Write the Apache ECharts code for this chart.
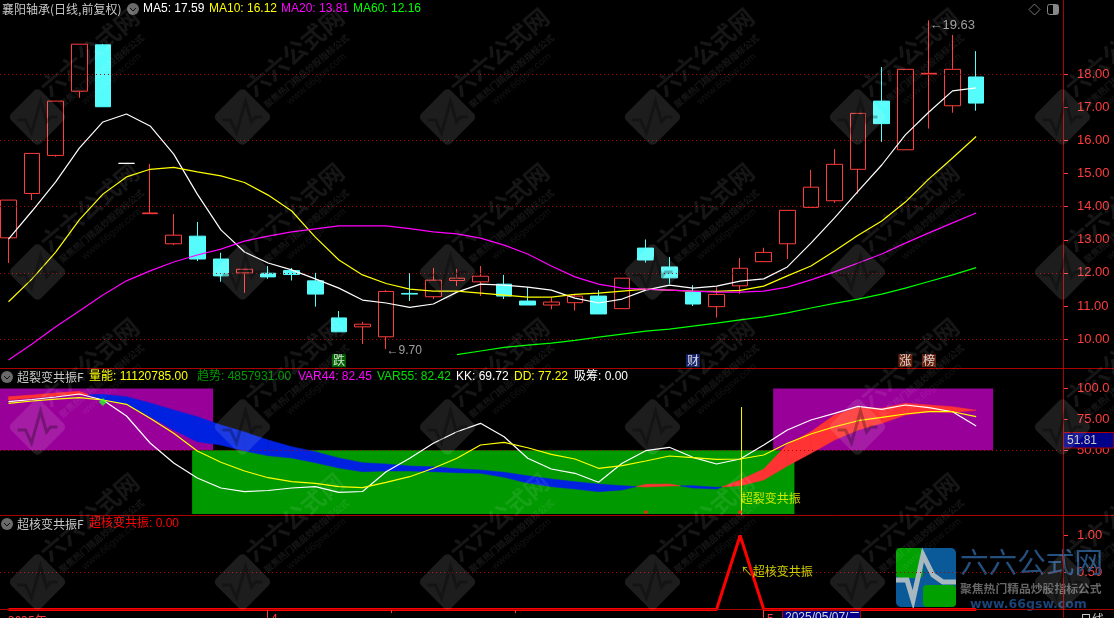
<!DOCTYPE html>
<html><head><meta charset="utf-8">
<style>html,body{margin:0;padding:0;background:#000;overflow:hidden}#c{width:1114px;height:618px}</style>
<script src="https://cdn.jsdelivr.net/npm/echarts@6/dist/echarts.min.js"></script>
</head><body><div id="c"></div>
<script>
// ---- price panel data ----
const opens  = [13.06,14.40,15.55,17.49,18.89,15.31,13.79,12.88,13.11,12.42,12.00,11.99,12.07,11.76,10.64,10.37,10.07,11.38,11.28,11.77,11.73,11.66,11.15,11.03,11.10,11.30,10.92,12.75,12.18,11.42,10.98,11.61,12.34,12.88,13.98,14.18,15.13,17.19,15.72,18.01,17.05,17.92];
const closes = [14.20,15.61,17.19,18.91,17.02,15.31,13.81,13.14,12.42,11.91,12.11,11.88,11.95,11.36,10.22,10.45,11.44,11.36,11.78,11.84,11.90,11.30,11.03,11.12,11.30,10.76,11.84,12.39,11.85,11.06,11.35,12.14,12.62,13.89,14.59,15.28,16.82,16.51,18.15,18.03,18.15,17.13];
const lows   = [12.30,14.20,15.51,17.29,17.02,15.31,13.79,12.84,12.36,11.73,11.40,11.82,11.77,10.98,10.22,9.85,9.70,11.15,11.21,11.60,11.30,11.21,11.03,10.90,10.86,10.76,10.92,12.31,11.67,11.00,10.65,11.37,12.34,12.42,13.98,14.12,14.39,15.96,15.72,16.36,16.84,16.90];
const highs  = [14.20,15.61,17.19,18.91,18.92,15.31,15.29,13.78,13.54,12.61,12.11,12.21,12.15,12.00,10.85,10.52,11.48,11.99,12.15,12.12,12.21,11.94,11.57,11.26,11.34,11.48,11.84,13.01,12.48,11.63,11.57,12.45,12.76,13.89,15.11,15.74,16.82,18.22,18.15,19.63,19.19,18.70];
const ma5  = [13.02,13.87,14.75,15.77,16.56,16.80,16.44,15.59,14.38,13.30,12.63,12.30,12.09,11.82,11.54,11.18,11.09,10.96,11.06,11.42,11.66,11.63,11.57,11.48,11.24,11.09,11.21,11.48,11.63,11.54,11.60,11.75,11.82,12.18,12.90,13.66,14.47,15.26,16.17,16.86,17.50,17.59];
const ma10 = [11.13,11.82,12.63,13.60,14.38,14.90,15.13,15.19,15.05,14.93,14.73,14.35,13.87,13.08,12.39,11.94,11.68,11.51,11.45,11.45,11.39,11.33,11.27,11.27,11.35,11.39,11.45,11.51,11.48,11.45,11.44,11.47,11.60,11.91,12.21,12.66,13.14,13.57,14.14,14.84,15.47,16.12];
const ma20 = [9.37,9.85,10.37,10.85,11.33,11.76,12.06,12.33,12.54,12.72,12.96,13.11,13.24,13.33,13.42,13.42,13.42,13.34,13.24,13.18,13.05,12.84,12.57,12.21,11.88,11.66,11.54,11.51,11.48,11.45,11.42,11.42,11.45,11.57,11.79,12.03,12.30,12.57,12.90,13.21,13.51,13.81];
const ma60Start = 19;
const ma60 = [9.53,9.64,9.75,9.82,9.88,9.96,10.06,10.15,10.24,10.30,10.39,10.48,10.58,10.67,10.79,10.94,11.08,11.21,11.36,11.54,11.74,11.94,12.16];
const priceTicks = [10,11,12,13,14,15,16,17,18];
const priceGrid = [10,12,14,16,18];
const signalIdx = [14,29,38,39];
const signalText = ['跌','财','涨','榜'];
const signalLevel = 9.35;

// ---- 超裂变共振 panel data ----
const var44 = [93.37,94.74,96.36,97.73,90.70,87.22,77.18,66.42,56.96,54.29,49.43,45.63,43.77,39.97,35.68,32.69,33.25,33.25,32.69,31.88,31.39,28.16,23.54,20.55,18.69,16.50,17.88,22.49,22.73,19.50,18.69,25.97,34.87,54.85,65.05,78.56,84.79,83.98,88.03,86.65,85.28,82.45];
const var55 = [90.70,92.31,93.93,94.74,95.31,93.37,88.27,82.61,77.18,70.47,64.81,58.33,52.91,48.87,43.77,39.97,38.92,37.30,36.73,35.11,34.06,32.20,29.45,26.78,24.60,22.73,21.36,20.31,21.12,21.36,20.06,21.36,25.97,37.30,47.57,58.33,66.42,71.84,78.56,81.23,80.74,82.42];
const kk = [89.32,91.10,93.12,95.55,90.70,77.75,55.91,39.72,27.59,19.50,16.50,17.48,19.50,20.55,16.02,16.67,32.69,43.53,55.66,65.05,71.84,61.00,43.53,34.87,31.39,24.11,39.48,49.68,52.43,44.34,38.92,42.96,54.29,66.42,74.51,79.94,85.60,83.17,86.65,84.47,81.23,69.72];
const dd = [88.03,89.89,91.50,92.56,90.70,87.22,75.89,63.75,49.43,40.29,33.25,27.83,24.60,23.30,20.55,19.74,24.11,28.64,35.44,43.53,54.29,56.47,52.10,46.76,42.96,35.44,37.54,41.34,45.39,44.01,42.72,42.96,46.20,55.66,63.19,69.09,73.95,76.70,79.37,81.23,81.23,77.22];
const purpleZones = [[-0.36,8.67,100,50],[32.4,41.72,100,50]];
const greenZones = [[7.78,33.3,50,-1.6]];
const resonanceIdx = 31;
const resonanceLineIdx = 31.06;
const resonanceTop = 85;
const bottomMarks = [27,31];
const greenMark = [4,89];
const indicatorTicks = [50,75,100];

// ---- 超核变共振 panel data ----
const coreSignal = [0,0,0,0,0,0,0,0,0,0,0,0,0,0,0,0,0,0,0,0,0,0,0,0,0,0,0,0,0,0,0,1,0,0,0,0,0,0,0,0,0,0];
const coreTicks = [0.5,1];

const CJK = '"Noto Sans CJK SC"';
const LAT = '"Liberation Sans","Noto Sans CJK SC"';
const FRAME = '#aa0000';
const AX_RED = '#ff3c3c';

const pairs = (arr, start=0) => arr.map((v,i)=>[i+start,v]);
const xMin = -0.36, xMax = 44.68;

const candleData = opens.map((o,i)=>{
  const item = {value:[i,o,closes[i],lows[i],highs[i]]};
  if(i===5) item.itemStyle={color:'#fff',color0:'#fff',borderColor:'#fff',borderColor0:'#fff',borderColorDoji:'#fff'};
  if(i===6||i===39) item.itemStyle={color:'#ff3c3c',color0:'#ff3c3c',borderColor:'#ff3c3c',borderColor0:'#ff3c3c',borderColorDoji:'#ff3c3c'};
  return item;
});

function lineS(data,color,xi,yi,width,z){
  return {type:'line',data,xAxisIndex:xi,yAxisIndex:yi,showSymbol:false,symbol:'none',silent:true,animation:false,
    lineStyle:{color,width:width||1.2},z:z||5,clip:false};
}
function anno(items,xi,yi,color,pos,size){
  return {type:'scatter',xAxisIndex:xi,yAxisIndex:yi,symbolSize:1,silent:true,animation:false,z:20,
    itemStyle:{color:'transparent'},
    data:items.map(it=>({value:[it[0],it[1]],label:{show:true,formatter:it[2],position:pos,distance:0,color,fontSize:size||12,fontFamily:LAT}}))};
}
function dotted(values,xi,yi){
  return {type:'line',data:[],xAxisIndex:xi,yAxisIndex:yi,z:1,silent:true,animation:false,
    markLine:{silent:true,symbol:'none',animation:false,label:{show:false},
      lineStyle:{color:'#b00000',type:[1,3],width:1},data:values.map(v=>({yAxis:v}))}};
}
function zones(list,color,xi,yi){
  return {type:'line',data:[],xAxisIndex:xi,yAxisIndex:yi,z:2,silent:true,animation:false,
    markArea:{silent:true,animation:false,itemStyle:{color,opacity:1},
      data:list.map(a=>[{coord:[a[0],a[2]]},{coord:[a[1],a[3]]}])}};
}

// band between VAR44 and VAR55: red where VAR44 is above, blue where below
const bandData = var44.slice(0,-1).map((a,i)=>[i,a,var55[i],var44[i+1],var55[i+1]]);
function renderBand(params,api){
  const i=api.value(0),a0=api.value(1),b0=api.value(2),a1=api.value(3),b1=api.value(4);
  const P=(x,y)=>api.coord([x,y]);
  const col=d=>d>=0?'#ff3333':'#0022e0';
  const poly=(pts,c)=>({type:'polygon',shape:{points:pts},style:{fill:c,stroke:c,lineWidth:0.5}});
  const d0=a0-b0,d1=a1-b1;
  if(d0*d1>=0) return poly([P(i,a0),P(i+1,a1),P(i+1,b1),P(i,b0)],col(d0+d1));
  const t=d0/(d0-d1),xc=i+t,yc=a0+(a1-a0)*t;
  return {type:'group',children:[
    poly([P(i,a0),P(xc,yc),P(i,b0)],col(d0)),
    poly([P(xc,yc),P(i+1,a1),P(i+1,b1)],col(d1))]};
}

const yAxisBase = (gi,min,max,ticks,fmt)=>({gridIndex:gi,type:'value',position:'right',min,max,scale:false,
  splitLine:{show:false},axisLine:{show:false,onZero:false},
  axisTick:{show:true,length:5,inside:false,lineStyle:{color:AX_RED},customValues:ticks},
  axisLabel:{show:true,margin:14,color:AX_RED,fontSize:13,fontFamily:LAT,customValues:ticks,formatter:fmt}});

const series = [
  dotted(priceGrid,0,0),
  dotted([50],1,1),
  dotted([0.5],2,2),
  zones(purpleZones,'#990099',1,1),
  zones(greenZones,'#009900',1,1),
  {type:'candlestick',xAxisIndex:0,yAxisIndex:0,barWidth:16,animation:false,silent:true,z:3,
    encode:{x:0,y:[1,2,3,4]},data:candleData,
    itemStyle:{color:'rgba(0,0,0,0)',color0:'#54fcfc',borderColor:'#ff3c3c',borderColor0:'#54fcfc',borderWidth:1}},
  lineS(pairs(ma5),'#ffffff',0,0),
  lineS(pairs(ma10),'#ffff00',0,0),
  lineS(pairs(ma20),'#ff00ff',0,0),
  lineS(pairs(ma60,ma60Start),'#00ff00',0,0),
  {type:'custom',xAxisIndex:1,yAxisIndex:1,data:bandData,renderItem:renderBand,silent:true,animation:false,z:4,clip:false,
    encode:{x:0,y:1}},
  lineS(pairs(kk),'#ffffff',1,1,1.2,6),
  lineS(pairs(dd),'#ffff00',1,1,1.2,6),
  lineS([[resonanceLineIdx,resonanceTop],[resonanceLineIdx,-2]],'#ffff00',1,1,1,7),
  {type:'scatter',xAxisIndex:1,yAxisIndex:1,data:bottomMarks.map(i=>[i,0]),symbol:'rect',symbolSize:[4,3],
    itemStyle:{color:'#ff2020'},silent:true,animation:false,z:8},
  {type:'scatter',xAxisIndex:1,yAxisIndex:1,data:[greenMark],symbol:'diamond',symbolSize:8,
    itemStyle:{color:'#22ff22'},silent:true,animation:false,z:8},
  lineS(pairs(coreSignal),'#ff0000',2,2,3,6),
  anno([[16,lows[16]-0.06,'←9.70']],0,0,'#c4c4c4','right'),
  anno([[39,highs[39]-0.16,'←19.63']],0,0,'#c4c4c4','right',13),
  anno([[resonanceIdx,9.8,'超裂变共振']],1,1,'#ffff00','right'),
  anno([[resonanceIdx,0.5,'↖超核变共振']],2,2,'#ffff00','right'),
  {type:'scatter',xAxisIndex:0,yAxisIndex:0,symbolSize:1,silent:true,animation:false,z:20,itemStyle:{color:'transparent'},
    data:signalIdx.map((idx,k)=>({value:[idx,signalLevel],label:{show:true,formatter:signalText[k],position:'inside',
      color:'#fff',fontSize:12,fontFamily:CJK,padding:[0,1,0,1],lineHeight:13,
      backgroundColor:['#007700','#1a2a80','#7a2a10','#7a2a10'][k]}}))}
];

// ---- static page furniture ----
const g = [];
const txt=(x,y,text,fill,font,opt)=>g.push({type:'text',z:(opt&&opt.z)||30,silent:true,
  style:Object.assign({x,y,text,fill,font:font||('12px '+LAT),verticalAlign:'middle'},opt&&opt.style)});
const ln=(x1,y1,x2,y2,c,w,z)=>g.push({type:'line',z:z||15,silent:true,shape:{x1,y1,x2,y2},style:{stroke:c||FRAME,lineWidth:w||1}});
const rc=(x,y,w,h,fill,stroke,r,z)=>g.push({type:'rect',z:z||16,silent:true,shape:{x,y,width:w,height:h,r:r||0},style:{fill:fill||'none',stroke:stroke||'none',lineWidth:1}});

// frame
ln(1063.5,0,1063.5,618); ln(0,368.5,1114,368.5); ln(0,515.5,1114,515.5); ln(0,609.5,1114,609.5);
ln(267.5,610,267.5,618,AX_RED); ln(763.5,610,763.5,618,AX_RED); ln(391.5,610,391.5,613,AX_RED); ln(515.5,610,515.5,613,AX_RED);

// dropdown circles
[[133,9],[7,377],[7,524]].forEach(p=>{
  g.push({type:'circle',z:30,silent:true,shape:{cx:p[0],cy:p[1],r:6},style:{fill:'#6a6a6a'}});
  g.push({type:'polyline',z:31,silent:true,shape:{points:[[p[0]-3,p[1]-1],[p[0],p[1]+2],[p[0]+3,p[1]-1]]},style:{stroke:'#111',lineWidth:1,fill:'none'}});
});
const F12='12px '+LAT;
// header rows
txt(2,9,'襄阳轴承(日线,前复权)','#c8c8c8','12px '+CJK);
txt(143,9,'MA5: 17.59','#ffffff',F12);
txt(209,9,'MA10: 16.12','#ffff00',F12);
txt(281,9,'MA20: 13.81','#ff00ff',F12);
txt(353,9,'MA60: 12.16','#00ff00',F12);
txt(17,377,'超裂变共振F','#c8c8c8','12px '+CJK);
txt(89,377,'量能: 11120785.00','#ffff00',F12);
txt(197,377,'趋势: 4857931.00','#009900',F12);
txt(298,377,'VAR44: 82.45','#ff00ff',F12);
txt(377,377,'VAR55: 82.42','#00e000',F12);
txt(456,377,'KK: 69.72','#ffffff',F12);
txt(514,377,'DD: 77.22','#ffff00',F12);
txt(574,377,'吸筹: 0.00','#ffffff',F12);
txt(17,524,'超核变共振F','#c8c8c8','12px '+CJK);
txt(89,524,'超核变共振: 0.00','#ff0000',F12);

// top right icons
g.push({type:'polygon',z:30,silent:true,shape:{points:[[1034.5,4],[1040,9.5],[1034.5,15],[1029,9.5]]},style:{fill:'none',stroke:'#777',lineWidth:1}});
rc(1047.5,4.5,11,10,'none','#888',2,30);
rc(1053,5,5,9,'#888','none',0,30);

// current value box
rc(1063.5,432.5,50.5,15.5,'#000088',FRAME,0,20);
txt(1067,441,'51.81','#c8c8c8',F12);

// bottom bar
txt(8,620,'2025年','#ff3c3c','12px '+CJK);
txt(271,620,'4','#ff3c3c',F12);
txt(767,620,'5','#ff3c3c',F12);
rc(782.5,610.5,78,9,'#000088','#aa0000',0,20);
txt(785,618,'2025/05/07/二','#d8d8d8','12px '+LAT);
txt(1080,619,'日线','#c8c8c8','12px '+CJK);

// watermark lattice
const wmFill='rgba(255,255,255,0.115)';
const wmText='rgba(255,255,255,0.085)';
for(let c=0;c<6;c++){ for(let r=0;r<4;r++){
  const cx=37.5+205*c, cy=117+155*r;
  g.push({type:'group',x:cx,y:cy,silent:true,z:50,children:[
    {type:'rect',silent:true,z:50,rotation:Math.PI/4,shape:{x:-21,y:-21,width:42,height:42,r:5},style:{fill:wmFill}},
    {type:'polyline',silent:true,z:51,shape:{points:[[-20,3],[-12,3],[-6,16],[3,-16],[9,5],[13,0],[20,0]]},style:{fill:'none',stroke:'rgba(0,0,0,0.28)',lineWidth:3}},
    {type:'text',silent:true,z:51,x:52,y:-65,rotation:0.7,style:{text:'六六公式网',fill:wmText,font:'bold 24px '+CJK,align:'center',verticalAlign:'middle'}},
    {type:'text',silent:true,z:51,x:64,y:-46,rotation:0.7,style:{text:'聚焦热门精品炒股指标公式',fill:wmText,font:'bold 9px '+CJK,align:'center',verticalAlign:'middle'}},
    {type:'text',silent:true,z:51,x:74,y:-38,rotation:0.7,style:{text:'www.66gsw.com',fill:'rgba(255,255,255,0.07)',font:'10px '+LAT,align:'center',verticalAlign:'middle'}}
  ]});
}}

// bottom-right logo
const lz=1;
rc(896,548,60,59,'#0a5a9a','none',5,lz);
rc(896,548,27,30,'#00a000','none',4,lz);
rc(923,585,33,22,'#00a000','none',4,lz);
g.push({type:'polyline',z:lz+1,silent:true,shape:{points:[[896,580],[907,580],[913,600],[923,555],[933,575],[943,582],[956,582]]},style:{fill:'none',stroke:'#a8b8c0',lineWidth:5}});
txt(960,562,'六六公式网','#24507f','28.6px '+CJK,{z:lz});
txt(960,589,'聚焦热门精品炒股指标公式','#666666','bold 11.8px '+CJK,{z:lz});
txt(970,605,'www.66gsw.com','#1a4478','bold 12.5px "DejaVu Sans"',{z:lz});

const chart = echarts.init(document.getElementById('c'),null,{renderer:'canvas'});
chart.setOption({
  backgroundColor:'#000',animation:false,tooltip:{show:false},legend:{show:false},
  grid:[
    {left:0,width:1063,top:0,height:368},
    {left:0,width:1063,top:369,height:146},
    {left:0,width:1063,top:516,height:93.5}
  ],
  xAxis:[0,1,2].map(i=>({gridIndex:i,type:'value',min:xMin,max:xMax,show:false,splitLine:{show:false}})),
  yAxis:[
    yAxisBase(0,9.127,20.245,priceTicks,v=>v.toFixed(2)),
    yAxisBase(1,-2.35,115.8,indicatorTicks,v=>v>=100?v.toFixed(1):v.toFixed(2)),
    yAxisBase(2,0,1.264,coreTicks,v=>v.toFixed(2))
  ],
  series,
  graphic:{elements:g}
});
</script></body></html>
